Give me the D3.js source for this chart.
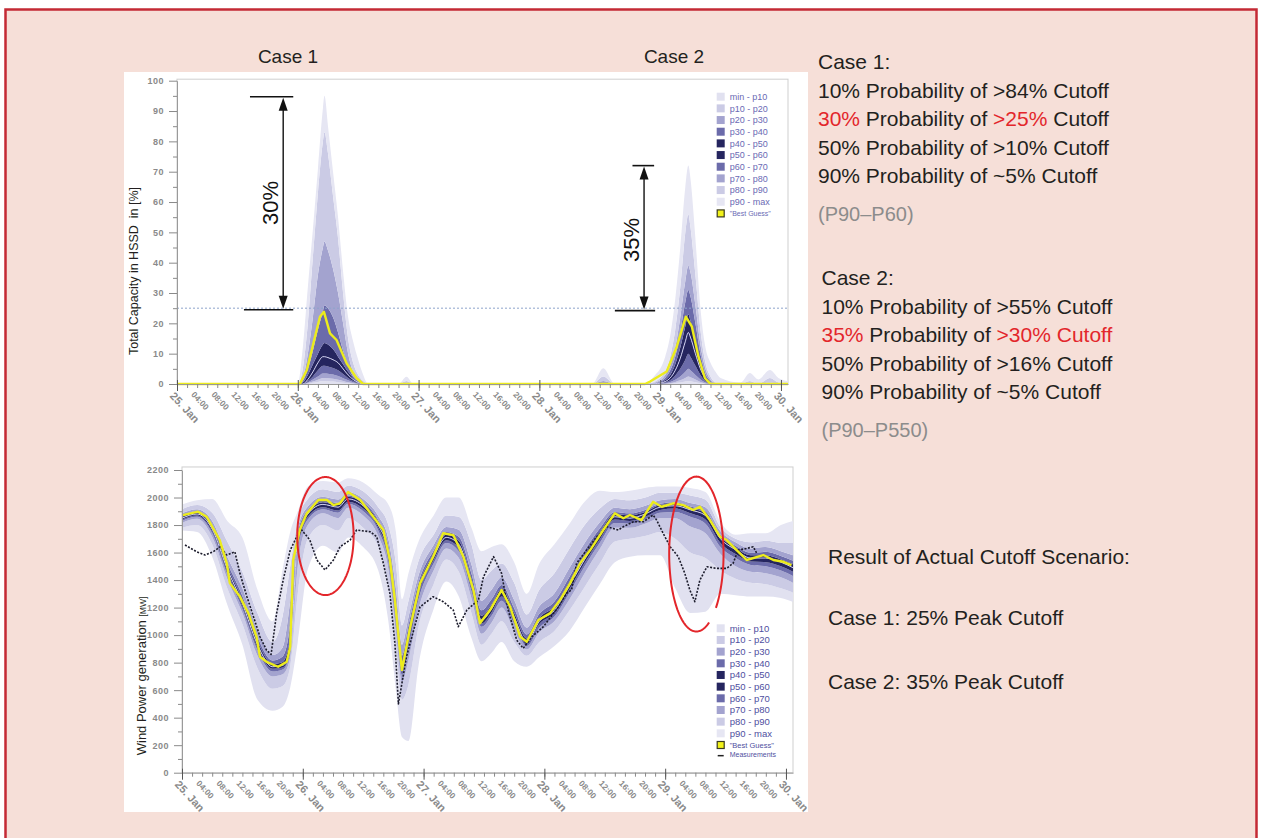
<!DOCTYPE html>
<html>
<head>
<meta charset="utf-8">
<script src="https://cdn.jsdelivr.net/npm/d3@7"></script>
<style>
  body { margin: 0; background: #fff; }
  svg { display: block; font-family: "Liberation Sans", Arial, sans-serif; }
</style>
</head>
<body>
<div id="figure"></div>
<script>
//x axis labels
var dayLabels = ["25. Jan", "26. Jan", "27. Jan", "28. Jan", "29. Jan", "30. Jan"];
var hourLabels = ["04:00", "08:00", "12:00", "16:00", "20:00"];

//legend
var legendLabels = ["min - p10", "p10 - p20", "p20 - p30", "p30 - p40", "p40 - p50",
  "p50 - p60", "p60 - p70", "p70 - p80", "p80 - p90", "p90 - max"];
var bandColors = ["#e1e1f0", "#cbcbe5", "#a3a3cf", "#6b6baa", "#25255f",
  "#25255f", "#6b6baa", "#a3a3cf", "#cbcbe5", "#e6e6f3"];

//top chart: HSSD capacity in %, hours after 25 Jan 00:00
var topHours = [0, 24, 25, 26, 27, 28, 29, 29.3, 30, 31, 32, 33, 34, 35, 36, 37, 38,
  44, 45.6, 47, 82.5, 84.7, 87,
  93, 95, 96, 97, 98, 99, 100, 101, 101.6, 102, 103, 104, 105, 106, 107, 108,
  112, 113.8, 115.5, 117.8, 119.5, 121.4];
var topMin = [0, 0,0,0,0,0,0,0,0,0,0,0,0,0,0,0,0, 0,0,0, 0,0,0,
  0,0,0,0,0,0,0,0,0,0,0,0,0,0,0,0, 0,0,0,0,0,0];
var topP10 = [0, 0,0,0.1,0.4,0.7,1,1,0.9,0.8,0.6,0.4,0.3,0.1,0,0,0, 0,0,0, 0,0,0,
  0,0,0,0,0.1,0.3,0.5,0.8,1,0.9,0.6,0.3,0.1,0,0,0, 0,0,0,0,0,0];
var topP20 = [0, 0,0,0.3,0.8,1.4,2,2,1.9,1.7,1.4,1,0.6,0.3,0,0,0, 0,0,0, 0,0,0,
  0,0,0,0.1,0.3,0.7,1.2,2,2.5,2.2,1.5,0.7,0.2,0,0,0, 0,0,0,0,0,0];
var topP30 = [0, 0,0,0.5,1.5,2.5,3.5,3.5,3.4,3.1,2.6,1.9,1.2,0.6,0.2,0,0, 0,0,0, 0,0,0,
  0,0,0.1,0.3,0.7,1.4,2.5,4,5,4.5,3,1.5,0.5,0.1,0,0, 0,0,0,0,0,0];
var topP40 = [0, 0,0,1,2.5,4.5,6,6,5.8,5.3,4.5,3.3,2,1,0.3,0,0, 0,0,0, 0,0,0,
  0,0,0.2,0.5,1.2,2.8,5,8,10,9,6,3,1,0.3,0,0, 0,0,0,0,0,0];
var topP50 = [0, 0,0,1.5,4,7,9,9,8.7,8,7,5,3,1.5,0.5,0,0, 0,0,0, 0,0,0,
  0,0.1,0.3,0.8,2,4.5,8.5,14,17,15.5,10,5,1.8,0.5,0,0, 0,0,0,0,0,0];
var topP60 = [0, 0,0.5,3,6.5,10,13,13.5,13,11.5,9,6.5,4,2,0.5,0,0, 0,0,0, 0,0,0,
  0,0.2,0.5,1.3,3,6.5,12,19,23,21,14,7,2.5,0.7,0,0, 0,0,0,0,0,0];
var topP70 = [0, 0,1,5,11,18,24,26,25,22,17,11,6,2.5,1,0,0, 0,0,0, 0,0.3,0,
  0,0.3,0.8,2,4.5,9,17,27,31,29,20,10,3.5,1,0,0, 0,0,0,0,0,0];
var topP80 = [0, 0,2,10,22,36,45,47,44,38,30,20,10,4,1.5,0.5,0, 0,0,0, 0,1,0,
  0,0.5,1.2,3,6,12,22,34,39,37,26,13,5,1.5,0.3,0, 0,0,0,0.5,0,0];
var topP90 = [0, 0,5,20,42,63,80,83,76,62,48,30,15,7,3,1,0, 0,1,0, 0,2.5,0,
  0,0.8,2,4,9,18,32,50,56,52,36,18,7,2.5,0.5,0, 0,1,0,2,0.5,0];
var topMax = [0, 0,12,32,51,71,91,95,85,70,55,37,22,14,8,3,0, 0,2.4,0, 0,5.2,0,
  0,3,5,9,16,28,45,65,72,68,48,25,12,7,4,2, 0.5,3.6,1.5,4.6,2,1];

var topGuessHours = [0, 24.4, 25.8, 27.1, 28.4, 29.2, 30.4, 31.7, 33.7, 35.7, 37,
  93, 94, 97.3, 99.3, 101.1, 102.3, 103.6, 104.9, 106, 121.4];
var topGuessValues = [0, 0, 4.6, 13.4, 22.2, 23.8, 16.7, 14.5, 6.8, 1.9, 0,
  0, 0.8, 4.1, 12.3, 22.2, 18.9, 9, 1.9, 0, 0];

var topThreshold = 25;

//bottom chart: wind power in MW
var windHours = [0, 3, 6, 9, 12, 15, 18, 20, 21.5, 23, 25, 28, 31, 33, 36, 39, 41, 42.5, 43.7, 45,
  47, 50, 52.5, 55, 57.5, 59.5, 61.5, 63.5, 66, 68.5, 71, 74, 77, 80, 83, 86, 89, 92, 95, 98,
  101, 104, 107, 110, 113, 116, 119, 121.4];
var windMin = [1760,1750,1570,1220,930,530,450,480,620,950,1480,1650,1600,1710,1640,1470,1100,600,260,230,
  780,1190,1390,1280,980,810,870,950,810,770,840,920,1030,1200,1370,1530,1570,1580,1580,1340,
  1160,1170,1300,1290,1280,1280,1270,1240];
var windP10 = [1780,1800,1660,1340,1080,760,610,630,770,1300,1700,1800,1760,1850,1780,1640,1340,880,530,640,
  1060,1370,1550,1460,1160,930,1010,1100,950,850,950,1030,1180,1350,1520,1680,1700,1720,1750,1700,
  1600,1560,1470,1410,1380,1370,1340,1310];
var windP20 = [1815,1845,1715,1410,1160,850,700,715,835,1500,1800,1885,1850,1925,1870,1720,1480,1020,660,820,
  1190,1470,1630,1560,1270,1010,1090,1200,1030,895,1020,1100,1260,1450,1625,1780,1780,1810,1850,1850,
  1790,1740,1590,1500,1460,1450,1420,1380];
var windP30 = [1830,1860,1740,1440,1190,890,735,750,865,1620,1840,1915,1890,1955,1900,1760,1530,1080,710,910,
  1260,1520,1670,1610,1320,1060,1140,1250,1080,920,1055,1135,1310,1500,1670,1815,1810,1840,1890,1895,
  1860,1810,1640,1560,1510,1500,1470,1430];
var windP40 = [1840,1870,1755,1460,1210,910,755,765,885,1660,1860,1930,1905,1970,1920,1780,1570,1120,740,960,
  1300,1545,1690,1635,1350,1085,1165,1280,1105,935,1080,1160,1335,1525,1695,1840,1830,1860,1910,1920,
  1885,1840,1670,1590,1535,1530,1500,1460];
var windP50 = [1850,1880,1770,1480,1230,930,770,780,900,1700,1880,1950,1930,1990,1940,1800,1600,1150,760,1000,
  1330,1570,1710,1660,1380,1110,1190,1310,1130,950,1100,1180,1360,1550,1720,1860,1850,1880,1930,1940,
  1910,1870,1700,1620,1560,1560,1530,1490];
var windP60 = [1860,1890,1785,1500,1255,955,790,805,980,1720,1895,1965,1945,2005,1955,1820,1625,1190,800,1030,
  1355,1590,1730,1685,1410,1140,1220,1335,1160,975,1125,1210,1390,1580,1745,1880,1870,1895,1945,1955,
  1925,1885,1715,1635,1580,1580,1550,1515];
var windP70 = [1870,1900,1800,1525,1285,985,815,845,1080,1745,1910,1980,1960,2015,1965,1835,1655,1240,850,1070,
  1385,1615,1750,1715,1450,1180,1260,1365,1195,1005,1155,1245,1425,1615,1775,1895,1885,1910,1955,1965,
  1935,1900,1730,1650,1600,1605,1575,1540];
var windP80 = [1885,1915,1830,1570,1340,1040,855,910,1250,1775,1935,2005,1985,2040,1990,1865,1700,1340,930,1130,
  1435,1655,1785,1765,1515,1250,1330,1420,1255,1055,1210,1305,1490,1670,1820,1925,1915,1940,1980,1990,
  1960,1930,1755,1675,1630,1640,1610,1580];
var windP90 = [1915,1945,1890,1680,1460,1160,950,1140,1500,1830,1990,2060,2040,2085,2045,1930,1800,1520,1070,1250,
  1540,1730,1870,1860,1660,1400,1470,1520,1380,1150,1330,1450,1630,1800,1920,1990,1980,2000,2035,2035,
  2015,1985,1785,1700,1675,1685,1670,1670];
var windMax = [1950,1980,1990,1830,1710,1330,1100,1480,1750,1900,2080,2120,2110,2140,2110,2020,1950,1750,1260,1450,
  1680,1870,2000,2000,1780,1610,1640,1660,1530,1300,1520,1660,1810,1970,2050,2040,2050,2070,2080,2080,
  2070,2040,1820,1730,1740,1740,1800,1830];

var guessHours = [0, 3.2, 4.9, 7.5, 8.9, 9.5, 11.5, 13.2, 14.8, 15.5, 16.8, 19.1, 20.8, 21.5, 22.1, 23.4,
  24.8, 27.1, 28.8, 30.1, 31.4, 33.0, 35.4, 38.0, 40.0, 41.3, 42.3, 43.7, 45.3, 47.3, 49.9, 51.9,
  53.9, 55.9, 57.9, 59.2, 61.2, 63.5, 65.2, 67.2, 68.5, 70.8, 73.1, 75.1, 77.1, 79.1, 81.1, 83.7,
  86.0, 87.7, 89.0, 91.3, 93.6, 95.3, 97.6, 99.6, 101.6, 102.9, 104.9, 106.9, 108.2, 110.2, 112.2,
  115.5, 117.5, 119.5, 121.1];
var guessValues = [1870, 1897, 1860, 1691, 1522, 1378, 1280, 1158, 988, 843, 806, 770, 806, 915, 1547, 1764,
  1885, 1982, 1982, 1945, 1958, 2040, 1982, 1861, 1764, 1546, 1255, 746, 1050, 1376, 1570, 1740,
  1727, 1570, 1328, 1086, 1182, 1328, 1206, 988, 952, 1110, 1158, 1255, 1376, 1522, 1618, 1764,
  1885, 1849, 1873, 1836, 1969, 1933, 1958, 1945, 1909, 1933, 1836, 1715, 1691, 1618, 1546,
  1582, 1546, 1533, 1509];

var measHours = [0.6, 2.9, 4.6, 6.2, 7.6, 8.9, 10.5, 11.5, 12.9, 14.2, 15.5, 16.8, 17.7, 18.8, 20.1, 21.5,
  22.8, 23.8, 25.4, 26.8, 28.4, 30.1, 31.4, 33.4, 34.7, 37.4, 38.7, 40.0, 41.3, 42.3, 43.0, 44.6,
  47.3, 49.9, 51.9, 53.9, 54.9, 56.6, 58.9, 59.9, 61.9, 63.5, 64.8, 66.5, 67.8, 69.5, 71.8, 74.8,
  76.4, 77.4, 78.4, 80.4, 82.4, 84.4, 86.7, 87.7, 89.7, 91.7, 93.6, 94.3, 95.6, 97.0, 98.6, 99.9,
  100.9, 101.9, 102.9, 104.3, 106.2, 108.2, 109.5, 110.5, 112.2, 113.5, 114.2];
var measValues = [1655, 1606, 1582, 1606, 1642, 1582, 1606, 1449, 1279, 1134, 988, 891, 860, 1158, 1400, 1618,
  1715, 1764, 1691, 1546, 1473, 1546, 1642, 1691, 1764, 1751, 1715, 1522, 1304, 940, 500, 843,
  1206, 1279, 1243, 1182, 1061, 1182, 1255, 1424, 1570, 1449, 1182, 964, 904, 988, 1061, 1206,
  1304, 1328, 1522, 1618, 1715, 1788, 1764, 1788, 1824, 1824, 1873, 1836, 1740, 1642, 1570, 1449,
  1328, 1243, 1400, 1497, 1485, 1485, 1522, 1618, 1630, 1642, 1594];

//right hand notes
var case1Lines = [["10%", " Probability of ", ">84%", " Cutoff"], ["30%", " Probability of ", ">25%", " Cutoff"],
  ["50%", " Probability of ", ">10%", " Cutoff"], ["90%", " Probability of ", "~5%", " Cutoff"]];
var case2Lines = [["10%", " Probability of ", ">55%", " Cutoff"], ["35%", " Probability of ", ">30%", " Cutoff"],
  ["50%", " Probability of ", ">16%", " Cutoff"], ["90%", " Probability of ", "~5%", " Cutoff"]];

var width = 1262;
var height = 838;
var textDark = "#231f20";
var textRed = "#e3262b";
var tickGray = "#8a8a8a";

var svg = d3.select("#figure")
  .append("svg")
  .attr("width", width)
  .attr("height", height);

//frame and panel
svg.append("rect")
  .attr("x", 5.5).attr("y", 9.5)
  .attr("width", 1251).attr("height", 850)
  .attr("fill", "#f6dfd8")
  .attr("stroke", "#c42a35")
  .attr("stroke-width", 2.5);

svg.append("rect")
  .attr("x", 124).attr("y", 72)
  .attr("width", 684).attr("height", 740)
  .attr("fill", "#ffffff");

//scales
var xTop = d3.scaleLinear().domain([0, 121.4]).range([177, 788]);
var yTop = d3.scaleLinear().domain([0, 100]).range([384, 80.7]);
var xBot = d3.scaleLinear().domain([0, 121.4]).range([182, 793]);
var yBot = d3.scaleLinear().domain([0, 2200]).range([772.7, 470]);

var topQuantiles = [topMin, topP10, topP20, topP30, topP40, topP50, topP60, topP70, topP80, topP90, topMax];
var windQuantiles = [windMin, windP10, windP20, windP30, windP40, windP50, windP60, windP70, windP80, windP90, windMax];

//plot boxes
svg.append("rect")
  .attr("x", xTop(0)).attr("y", yTop(100.5))
  .attr("width", xTop(121.4) - xTop(0)).attr("height", yTop(0) - yTop(100.5))
  .attr("fill", "none").attr("stroke", "#cfcfcf");
svg.append("rect")
  .attr("x", xBot(0)).attr("y", yBot(2222))
  .attr("width", xBot(121.4) - xBot(0)).attr("height", yBot(0) - yBot(2222))
  .attr("fill", "none").attr("stroke", "#cfcfcf");

//fan bands
function drawBands(x, y, hours, quantiles) {
  var g = svg.append("g");
  for (var i = 0; i < quantiles.length - 1; i++) {
    var lo = quantiles[i];
    var hi = quantiles[i + 1];
    var area = d3.area()
      .x(function(d, j) { return x(hours[j]); })
      .y0(function(d, j) { return y(lo[j]); })
      .y1(function(d, j) { return y(hi[j]); })
      .curve(d3.curveMonotoneX);
    g.append("path")
      .datum(hours)
      .attr("d", area)
      .attr("fill", bandColors[i]);
  }
  //median line
  var mid = quantiles[5];
  g.append("path")
    .datum(hours)
    .attr("d", d3.line()
      .x(function(d, j) { return x(hours[j]); })
      .y(function(d, j) { return y(mid[j]); })
      .curve(d3.curveMonotoneX))
    .attr("fill", "none")
    .attr("stroke", "#cfcff0")
    .attr("stroke-width", 1);
}

function drawSeries(x, y, hours, values, color, widthPx, dash) {
  var line = d3.line()
    .x(function(d, j) { return x(hours[j]); })
    .y(function(d, j) { return y(values[j]); });
  svg.append("path")
    .datum(hours)
    .attr("d", line)
    .attr("fill", "none")
    .attr("stroke", color)
    .attr("stroke-width", widthPx)
    .attr("stroke-dasharray", dash || null)
    .attr("stroke-linejoin", "round");
}

drawBands(xTop, yTop, topHours, topQuantiles);
drawBands(xBot, yBot, windHours, windQuantiles);

//threshold line
svg.append("line")
  .attr("x1", xTop(0)).attr("x2", xTop(121.4))
  .attr("y1", yTop(topThreshold)).attr("y2", yTop(topThreshold))
  .attr("stroke", "#8ea3cc")
  .attr("stroke-width", 1)
  .attr("stroke-dasharray", "2,2");

drawSeries(xTop, yTop, topGuessHours, topGuessValues, "#ecec1c", 2.4);
drawSeries(xBot, yBot, measHours, measValues, "#1c1c2c", 1.6, "2,1.5");
drawSeries(xBot, yBot, guessHours, guessValues, "#ecec1c", 2.4);

//axes
function drawYAxis(y, x0, major, minor) {
  svg.append("g")
    .attr("transform", "translate(" + x0 + ",0)")
    .call(d3.axisLeft(y).tickValues(minor).tickSize(4).tickFormat("").tickSizeOuter(0))
    .call(function(s) { s.select(".domain").attr("stroke", "#9a9a9a"); })
    .call(function(s) { s.selectAll(".tick line").attr("stroke", "#8a8a8a"); });
  var ax = svg.append("g")
    .attr("transform", "translate(" + x0 + ",0)")
    .call(d3.axisLeft(y).tickValues(major).tickSize(8).tickPadding(5)
      .tickFormat(d3.format("d")).tickSizeOuter(0));
  ax.select(".domain").remove();
  ax.selectAll(".tick line").attr("stroke", "#8a8a8a");
  ax.selectAll(".tick text")
    .attr("fill", tickGray)
    .attr("font-size", 9)
    .attr("font-weight", "bold")
    .attr("letter-spacing", 0.5)
    .attr("font-family", "'Liberation Sans', Arial, sans-serif");
}

function drawXAxis(x, y0) {
  svg.append("g")
    .attr("transform", "translate(0," + y0 + ")")
    .call(d3.axisBottom(x).tickValues(d3.range(0, 121, 2)).tickSize(4).tickFormat("").tickSizeOuter(0))
    .call(function(s) { s.select(".domain").attr("stroke", "#9a9a9a"); })
    .call(function(s) { s.selectAll(".tick line").attr("stroke", "#8a8a8a"); });
  svg.append("g")
    .attr("transform", "translate(0," + y0 + ")")
    .call(d3.axisBottom(x).tickValues(d3.range(0, 121, 24)).tickSize(7).tickFormat("").tickSizeOuter(0))
    .call(function(s) { s.select(".domain").remove(); })
    .call(function(s) { s.selectAll(".tick line").attr("stroke", "#555").attr("y1", -4); });

  //rotated labels every 4 hours
  var labelHours = d3.range(0, 121, 4);
  svg.append("g")
    .selectAll("text")
    .data(labelHours)
    .enter()
    .append("text")
    .attr("transform", function(d) {
      return "translate(" + (x(d) - 2) + "," + (y0 + 7) + ")rotate(47)";
    })
    .attr("dy", "0.72em")
    .attr("fill", tickGray)
    .attr("font-weight", "bold")
    .attr("font-size", function(d) { return d % 24 === 0 ? 11 : 8.3; })
    .text(function(d) {
      return d % 24 === 0 ? dayLabels[d / 24] : hourLabels[(d % 24) / 4 - 1];
    });
}

drawYAxis(yTop, xTop(0), d3.range(0, 101, 10), d3.range(5, 100, 10));
drawXAxis(xTop, yTop(0));
drawYAxis(yBot, xBot(0), d3.range(0, 2201, 200), d3.range(100, 2200, 200));
drawXAxis(xBot, yBot(0));

//axis titles
svg.append("text")
  .attr("transform", "translate(138," + 271 + ")rotate(-90)")
  .attr("text-anchor", "middle")
  .attr("font-size", 12.5)
  .attr("fill", textDark)
  .attr("xml:space", "preserve")
  .style("white-space", "pre")
  .text("Total Capacity in HSSD  in [%]");

var wTitle = svg.append("text")
  .attr("transform", "translate(146," + 676 + ")rotate(-90)")
  .attr("text-anchor", "middle")
  .attr("font-size", 13)
  .attr("fill", textDark);
wTitle.append("tspan").text("Wind Power generation ");
wTitle.append("tspan").attr("font-size", 8.5).text("[MW]");

//legends
function drawLegend(x0, y0, fontSize, textColor, withMeasure) {
  var g = svg.append("g").attr("transform", "translate(" + x0 + "," + y0 + ")");
  var step = 11.67;
  legendLabels.forEach(function(label, i) {
    g.append("rect")
      .attr("x", 0).attr("y", i * step - 4)
      .attr("width", 8).attr("height", 8)
      .attr("fill", bandColors[i]);
    g.append("text")
      .attr("x", 13).attr("y", i * step)
      .attr("dy", "0.35em")
      .attr("font-size", fontSize)
      .attr("fill", textColor)
      .text(label);
  });
  var n = legendLabels.length;
  g.append("rect")
    .attr("x", 0.5).attr("y", n * step - 3.5)
    .attr("width", 7).attr("height", 7)
    .attr("fill", "#f2f21a")
    .attr("stroke", "#3a3a20")
    .attr("stroke-width", 1.2);
  g.append("text")
    .attr("x", 13).attr("y", n * step)
    .attr("dy", "0.35em")
    .attr("font-size", fontSize - 2)
    .attr("fill", textColor)
    .text("\"Best Guess\"");
  if (withMeasure) {
    g.append("line")
      .attr("x1", 1).attr("x2", 7)
      .attr("y1", (n + 1) * step - 1).attr("y2", (n + 1) * step - 1)
      .attr("stroke", "#222").attr("stroke-width", 1.5);
    g.append("text")
      .attr("x", 13).attr("y", (n + 1) * step - 2)
      .attr("dy", "0.35em")
      .attr("font-size", fontSize - 2.5)
      .attr("fill", textColor)
      .text("Measurements");
  }
}

drawLegend(716.7, 96.7, 9, "#6a6ab4", false);
drawLegend(716.7, 628.3, 9.5, "#4f4fa0", true);

//cutoff arrows
var arrows = [
  {h: 21.1, top: 94.7, bottom: 24.5, topBar: [14.5, 23.1], bottomBar: [13.3, 23.1], label: "30%", lh: 18.5, lv: 59.7},
  {h: 92.8, top: 72, bottom: 24.2, topBar: [90.5, 94.8], bottomBar: [87, 95], label: "35%", lh: 90.3, lv: 47.5}
];
arrows.forEach(function(a) {
  var ax = xTop(a.h);
  var yt = yTop(a.top);
  var yb = yTop(a.bottom);
  svg.append("line")
    .attr("x1", xTop(a.topBar[0])).attr("x2", xTop(a.topBar[1]))
    .attr("y1", yt).attr("y2", yt)
    .attr("stroke", "#111").attr("stroke-width", 1.6);
  svg.append("line")
    .attr("x1", xTop(a.bottomBar[0])).attr("x2", xTop(a.bottomBar[1]))
    .attr("y1", yb).attr("y2", yb)
    .attr("stroke", "#111").attr("stroke-width", 1.6);
  svg.append("line")
    .attr("x1", ax).attr("x2", ax)
    .attr("y1", yt + 10).attr("y2", yb - 10)
    .attr("stroke", "#111").attr("stroke-width", 1.4);
  svg.append("path")
    .attr("d", "M" + ax + "," + (yt + 1) + "l-4.5,13h9z")
    .attr("fill", "#111");
  svg.append("path")
    .attr("d", "M" + ax + "," + (yb - 1) + "l-4.5,-13h9z")
    .attr("fill", "#111");
  svg.append("text")
    .attr("transform", "translate(" + xTop(a.lh) + "," + yTop(a.lv) + ")rotate(-90)")
    .attr("text-anchor", "middle")
    .attr("dy", "0.36em")
    .attr("font-size", 22)
    .attr("fill", "#111")
    .text(a.label);
});

//red ellipses around the measured dips
var ellipses = [
  {h: 28.5, v: 1720, rh: 5.6, rv: 429, gap: null},
  {h: 102.2, v: 1589, rh: 5.4, rv: 563, gap: [44, 62]}
];
ellipses.forEach(function(e) {
  var cx = xBot(e.h);
  var cy = yBot(e.v);
  var rx = xBot(e.h + e.rh) - cx;
  var ry = yBot(e.v - e.rv) - cy;
  var start = e.gap ? e.gap[1] : 0;
  var end = e.gap ? e.gap[0] + 360 : 360;
  var pts = d3.range(start, end + 1, 2).map(function(t) {
    var r = t * Math.PI / 180;
    return [cx + rx * Math.cos(r), cy + ry * Math.sin(r)];
  });
  svg.append("path")
    .attr("d", d3.line()(pts) + (e.gap ? "" : "Z"))
    .attr("fill", "none")
    .attr("stroke", "#e3262b")
    .attr("stroke-width", 2);
});

//case headings
svg.append("text").attr("x", 288).attr("y", 63).attr("text-anchor", "middle")
  .attr("font-size", 19).attr("fill", textDark).text("Case 1");
svg.append("text").attr("x", 674).attr("y", 63).attr("text-anchor", "middle")
  .attr("font-size", 19).attr("fill", textDark).text("Case 2");

//notes on the right
function drawNotes(x0, y0, title, lines, redIndex, redAll, footer) {
  var step = 28.5;
  svg.append("text").attr("x", x0).attr("y", y0)
    .attr("font-size", 21).attr("fill", textDark).text(title);
  lines.forEach(function(parts, i) {
    var t = svg.append("text").attr("x", x0).attr("y", y0 + (i + 1) * step)
      .attr("font-size", 21).attr("fill", textDark)
      .attr("xml:space", "preserve").style("white-space", "pre");
    parts.forEach(function(p, k) {
      var red = i === redIndex && (k === 0 || k === 2 || (redAll && k === 3));
      t.append("tspan").attr("fill", red ? textRed : textDark).text(p);
    });
  });
  svg.append("text").attr("x", x0).attr("y", y0 + 4 * step + 38)
    .attr("font-size", 20).attr("fill", "#8c8c8c").text(footer);
}

drawNotes(818, 69, "Case 1:", case1Lines, 1, false, "(P90\u2013P60)");
drawNotes(821.5, 285, "Case 2:", case2Lines, 1, true, "(P90\u2013P550)");

svg.append("text").attr("x", 828).attr("y", 563.5)
  .attr("font-size", 21).attr("fill", textDark).text("Result of Actual Cutoff Scenario:");
svg.append("text").attr("x", 828).attr("y", 625)
  .attr("font-size", 21).attr("fill", textDark).text("Case 1: 25% Peak Cutoff");
svg.append("text").attr("x", 828).attr("y", 688.5)
  .attr("font-size", 21).attr("fill", textDark).text("Case 2: 35% Peak Cutoff");
</script>
</body>
</html>
